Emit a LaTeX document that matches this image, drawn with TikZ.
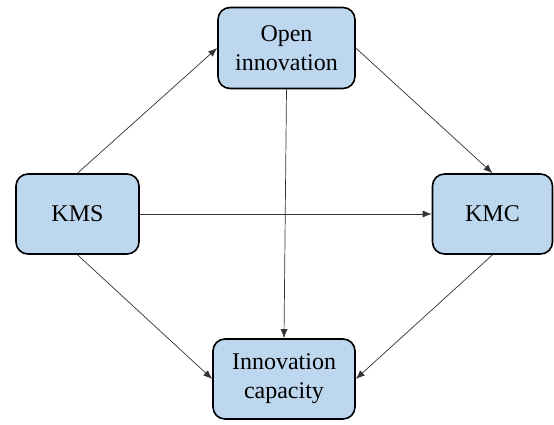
\documentclass[tikz,border=0pt]{standalone}
\usepackage{fontspec}
\setmainfont{Liberation Serif}
\usetikzlibrary{positioning,arrows.meta}
\definecolor{boxblue}{RGB}{189,215,238}
\tikzset{
box/.style={
  rectangle,
  draw=black,
  line width=1.6pt,
  fill=boxblue,
  rounded corners=12pt,
  align=center,
  font=\fontsize{24}{29}\selectfont
  },
link/.style={-{Latex[length=9pt,width=7pt]}, line width=0.7pt, draw=black!80}
}

\begin{document}
\begin{tikzpicture}[x=1pt,y=1pt]
    \useasboundingbox (0,0) rectangle (554,424);
    \node [box, minimum width=137pt, minimum height=81pt] (open) at (286.5,376) {Open\\innovation};
    \node [box, minimum width=123pt, minimum height=80pt] (kms) at (77.5,210) {KMS};
    \node [box, minimum width=120pt, minimum height=80pt] (kmc) at (492.5,210) {KMC};
    \node [box, minimum width=142pt, minimum height=80pt] (cap) at (284,45) {Innovation\\capacity};

    \draw [link] (kms.north) -- (open.west);
    \draw [link] (open.east) -- (kmc.north);
    \draw [link] (kms.east) -- (kmc.west);
    \draw [link] (open.south) -- (cap.north);
    \draw [link] (kms.south) -- (cap.west);
    \draw [link] (kmc.south) -- (cap.east);
\end{tikzpicture}
\end{document}
